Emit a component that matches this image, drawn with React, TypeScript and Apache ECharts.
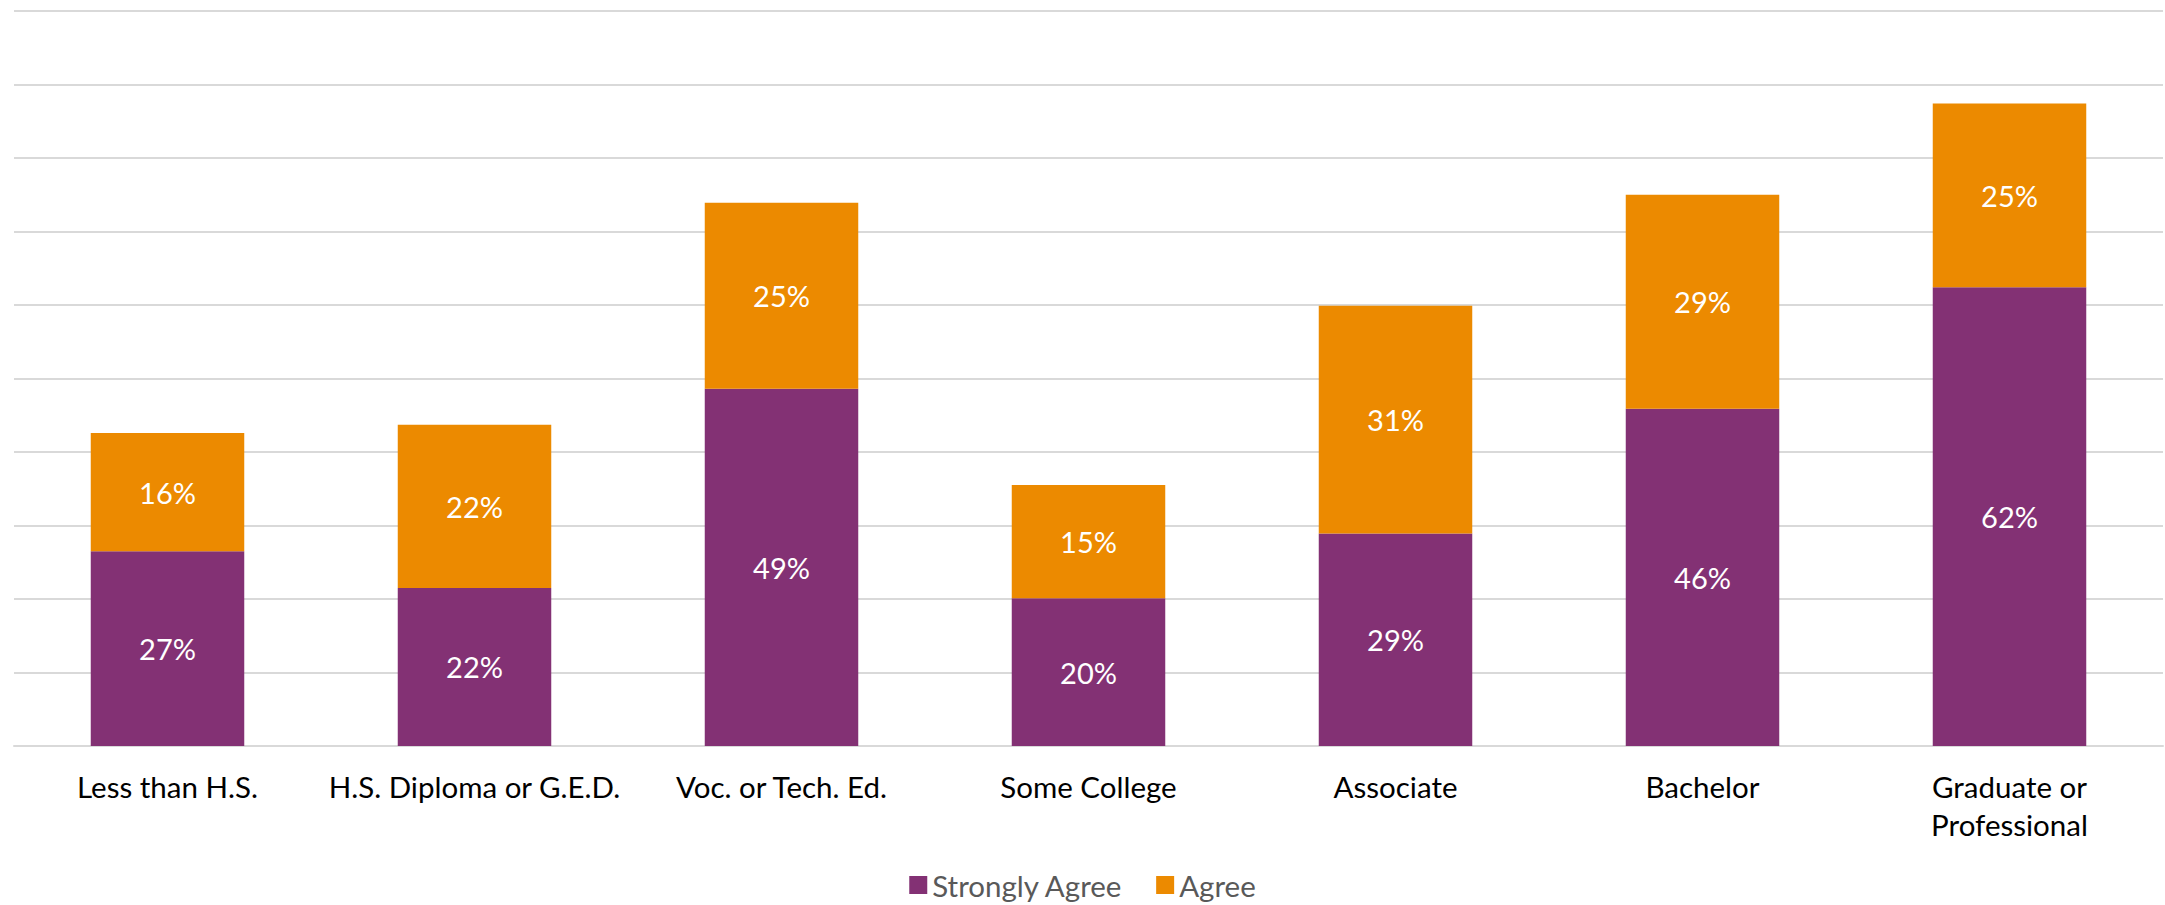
import React, { useEffect, useRef } from "react";
import * as echarts from "echarts";

const categories = [
  "Less than H.S.",
  "H.S. Diploma or G.E.D.",
  "Voc. or Tech. Ed.",
  "Some College",
  "Associate",
  "Bachelor",
  "Graduate or\nProfessional",
];
const stronglyAgree = [26.5, 21.5, 48.6, 20.1, 28.9, 45.9, 62.4];
const agree = [16.1, 22.2, 25.3, 15.4, 31.0, 29.1, 25.0];

const FONT = "Lato, 'Noto Sans', sans-serif";

export default function App() {
  const ref = useRef<HTMLDivElement>(null);
  useEffect(() => {
    document.body.style.margin = "0";
    const chart = echarts.init(ref.current!, null, { renderer: "svg" });
    const label = {
      show: true,
      position: "inside",
      color: "#ffffff",
      fontSize: 29,
      fontFamily: FONT,
      formatter: (p: any) => Math.round(p.value) + "%",
    };
    chart.setOption({
      animation: false,
      backgroundColor: "#ffffff",
      grid: { left: 14, right: 2, top: 11, bottom: 159, containLabel: false },
      legend: {
        bottom: 4,
        left: "center",
        padding: [0, 5, 0, 5],
        itemWidth: 18,
        itemHeight: 18,
        itemGap: 33,
        icon: "rect",
        textStyle: { fontSize: 29.5, lineHeight: 32, color: "#595959", fontFamily: FONT },
        data: ["Strongly Agree", "Agree"],
      },
      xAxis: {
        type: "category",
        data: categories,
        axisLine: { lineStyle: { color: "#d9d9d9", width: 2 } },
        axisTick: { show: false },
        axisLabel: {
          fontSize: 29.5,
          color: "#000000",
          fontFamily: FONT,
          margin: 21,
          lineHeight: 38,
          interval: 0,
        },
      },
      yAxis: {
        type: "value",
        min: 0,
        max: 100,
        interval: 10,
        axisLabel: { show: false },
        axisLine: { show: false },
        axisTick: { show: false },
        splitLine: { lineStyle: { color: "#d9d9d9", width: 2 } },
      },
      series: [
        {
          name: "Strongly Agree",
          type: "bar",
          stack: "total",
          data: stronglyAgree,
          barCategoryGap: "50%",
          itemStyle: { color: "#833174" },
          label,
        },
        {
          name: "Agree",
          type: "bar",
          stack: "total",
          data: agree,
          barCategoryGap: "50%",
          itemStyle: { color: "#EC8A00" },
          label,
        },
      ],
    });
    return () => chart.dispose();
  }, []);
  return <div ref={ref} style={{ width: 2165, height: 905 }} />;
}
